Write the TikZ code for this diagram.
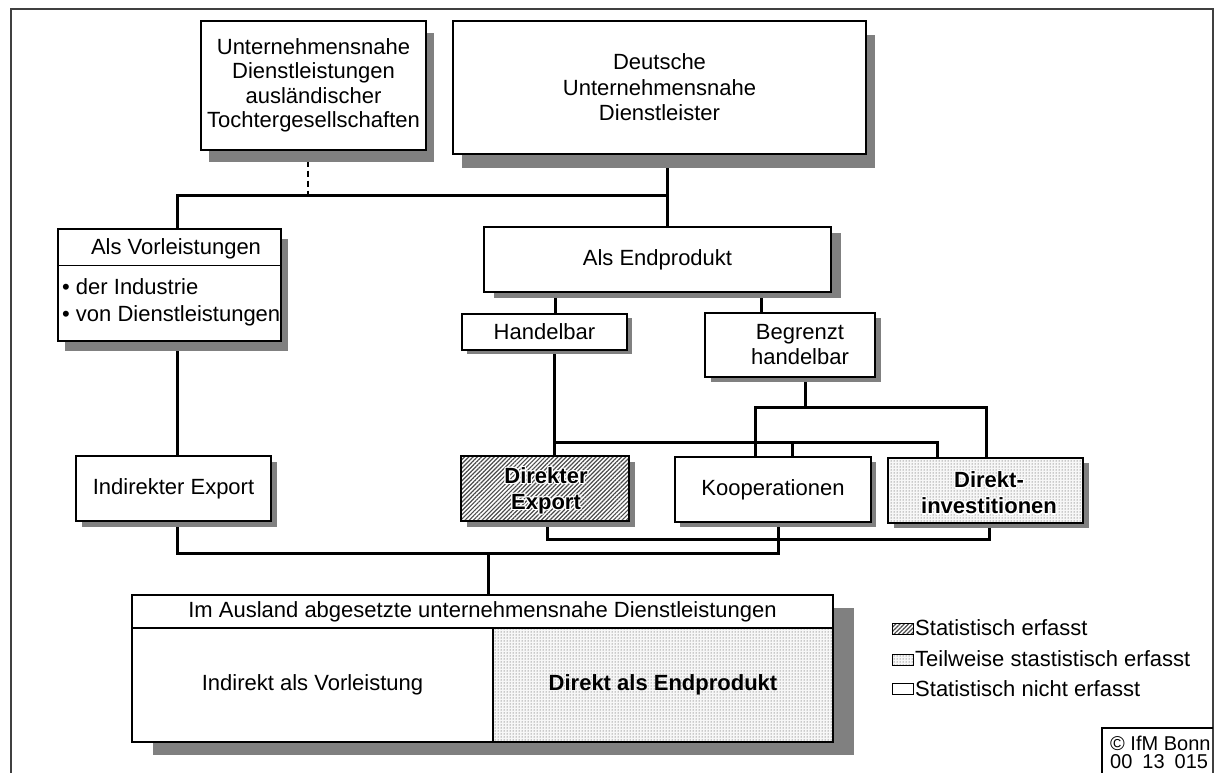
\documentclass[tikz,border=0pt]{standalone}
\usepackage{fontspec}
\setmainfont{Liberation Sans}
\usetikzlibrary{shadows,patterns,patterns.meta,calc,backgrounds}
\definecolor{shgray}{RGB}{128,128,128}
\definecolor{framegray}{RGB}{64,64,64}
\newcommand\halotext[3]{%
  \foreach \hx/\hy [count=\hi] in {-1.3/0,1.3/0,0/-1.3,0/1.3,-1/-1,1/1,-1/1,1/-1}{%
    \node[bftext,white] (#1h\hi) at ($(#2)+(\hx,\hy)$) {#3};}
  \node[bftext] (#1) at (#2) {#3};}
\begin{document}
\begin{tikzpicture}[x=1pt,y=-1pt,font=\fontsize{22}{25}\selectfont,
  bx/.style n args={4}{draw=black,line width=1.3pt,fill=white,inner sep=0pt,align=center,
    minimum width=#1pt,minimum height=#2pt,
    drop shadow={shadow xshift=#3pt,shadow yshift=-#4pt,fill=shgray,opacity=1}},
  cell/.style={draw=black,line width=1.3pt,fill=white,inner sep=0pt,align=center},
  hatchfill/.style={preaction={fill=white},pattern={Lines[angle=45,distance=3pt,line width=1.2pt]},pattern color=black!70},
  dotfill/.style={preaction={fill=gray!6},pattern=dots,pattern color=black!80},
  conn/.style={line width=3pt,line cap=rect,line join=miter},
  bftext/.style={font=\fontsize{22}{26}\selectfont\bfseries,align=center,inner sep=0pt},
  swatch/.style={draw=black,line width=0.8pt,inner sep=0pt,minimum width=21pt,minimum height=11pt},
  lg/.style={anchor=west,inner sep=0pt}]
\useasboundingbox (0,0) rectangle (1215,773);

% boxes
\node[bx={225}{129}{8}{12},font=\fontsize{22}{24.5}\selectfont] (A) at (313.5,85.5)
  {Unternehmensnahe\\Dienstleistungen\\ausländischer\\Tochtergesellschaften};
\node[bx={413}{133}{9}{14},font=\fontsize{22}{25.5}\selectfont] (B) at (659.5,87.5)
  {Deutsche\\Unternehmensnahe\\Dienstleister};

\node[bx={223}{112}{7}{10}] (V) at (169.5,285) {};
\draw[line width=1.3pt] ($(V.north west)+(0,37)$) -- ($(V.north east)+(0,37)$);
\node (Vt) at (176,249) {Als Vorleistungen};
\node[anchor=west,align=left,inner sep=0pt,font=\fontsize{22}{27}\selectfont] (Vb) at (62,302.5)
  {• der Industrie\\• von Dienstleistungen};

\node[bx={195}{65}{6}{6}] (IE) at (173.5,488.5) {Indirekter Export};
\node[bx={347}{65}{10}{6}] (E) at (657.5,259.5) {Als Endprodukt};
\node[bx={165}{36}{5}{4}] (H) at (544.5,332) {Handelbar};
\node[bx={170}{64}{6}{5}] (BH) at (790,345) {\hspace*{20pt}Begrenzt\\\hspace*{20pt}handelbar};
\node[bx={168}{65}{6}{6},hatchfill] (DE) at (545,488.5) {};
\halotext{DEt}{546,491}{Direkter\\Export}
\node[bx={196}{65}{5}{5}] (K) at (773,489.5) {Kooperationen};
\node[bx={195}{65}{6}{5},dotfill] (DI) at (985.5,490.5) {};
\halotext{DIt}{989,493}{Direkt-\\investitionen}

% bottom box
\node[bx={701}{147}{21}{13}] (OUT) at (482.5,668.5) {};
\node[cell,minimum width=701pt,minimum height=33pt] (HD) at (482.5,611.5)
  {Im Ausland abgesetzte unternehmensnahe Dienstleistungen};
\node[cell,minimum width=361pt,minimum height=114pt] (L) at (312.5,685) {Indirekt als Vorleistung};
\node[cell,dotfill,minimum width=340pt,minimum height=114pt,font=\fontsize{22}{26}\selectfont\bfseries] (R) at (663,685) {Direkt als Endprodukt};

% legend
\node[swatch,hatchfill] (s1) at (902.5,629) {};
\node[lg] (t1) at (915,628) {Statistisch erfasst};
\node[swatch,dotfill] (s2) at (902.5,660) {};
\node[lg] (t2) at (915,659) {Teilweise stastistisch erfasst};
\node[swatch,fill=white] (s3) at (902.5,689) {};
\node[lg] (t3) at (915,689) {Statistisch nicht erfasst};

% copyright
\draw[line width=1.3pt] (1102,773) |- (1213,728);
\node[lg,font=\fontsize{20}{20}\selectfont] (c1) at (1110,743) {© IfM Bonn};
\node[lg,font=\fontsize{20}{20}\selectfont] (c2) at (1110,762) {00\enspace 13\enspace 015};

% junction coordinates
\coordinate (d1) at (308,195);
\coordinate (j1) at (177,195);
\coordinate (j2) at (667,195);
\coordinate (j3) at (555,300);
\coordinate (j4) at (761,300);
\coordinate (j5) at (554,442);
\coordinate (j6) at (937,442);
\coordinate (j7) at (792,442);
\coordinate (j8) at (805,407);
\coordinate (j9) at (755,407);
\coordinate (j10) at (986,407);
\coordinate (j11) at (547,539);
\coordinate (j12) at (989,539);
\coordinate (j13) at (778,553);
\coordinate (j14) at (177,553);
\coordinate (j15) at (488,553);

\begin{pgfonlayer}{background}
\draw[framegray,line width=2pt] (11,773) |- (1213,9) -- (1213,773);
\draw[line width=1.5pt,dash pattern=on 6pt off 4pt] (A.south -| d1) -- (d1);
\draw[conn] (V.north -| j1) -- (j1) -- (j2);
\draw[conn] (B.south -| j2) -- (E.north -| j2);
\draw[conn] (V.south -| j1) -- (IE.north -| j1);
\draw[conn] (E.south -| j3) -- (H.north -| j3);
\draw[conn] (E.south -| j4) -- (BH.north -| j4);
\draw[conn] (H.south -| j5) -- (DE.north -| j5);
\draw[conn] (j5) -- (j6) -- (DI.north -| j6);
\draw[conn] (j7) -- (K.north -| j7);
\draw[conn] (BH.south -| j8) -- (j8);
\draw[conn] (K.north -| j9) |- (j10) -- (DI.north -| j10);
\draw[conn] (DE.south -| j11) |- (j12) -- (DI.south -| j12);
\draw[conn] (K.south -| j13) -- (j13);
\draw[conn] (IE.south -| j14) |- (j13);
\draw[conn] (j15) -- (HD.north -| j15);
\end{pgfonlayer}
\end{tikzpicture}
\end{document}
